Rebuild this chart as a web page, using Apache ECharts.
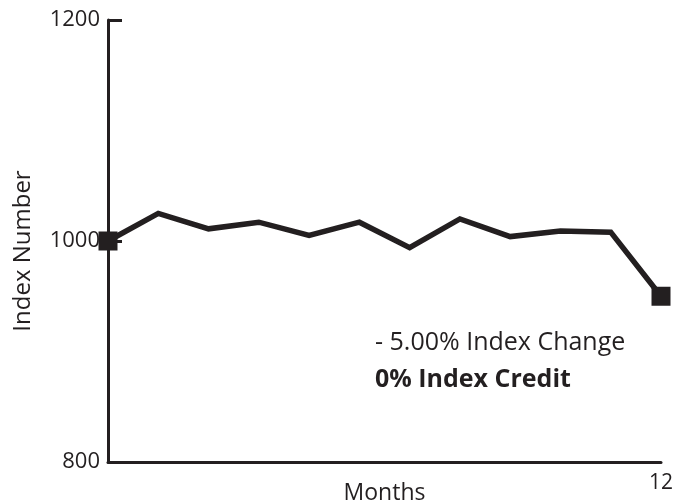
<!DOCTYPE html>
<html>
<head>
<meta charset="utf-8">
<script src="https://cdn.jsdelivr.net/npm/echarts@6/dist/echarts.min.js"></script>
<style>
  html, body { margin: 0; padding: 0; background: #fff; }
  #chart { width: 674px; height: 502px; }
</style>
</head>
<body>
<div id="chart"></div>
<script>
// Monthly index level over one year
const months = [1, 2, 3, 4, 5, 6, 7, 8, 9, 10, 11, 12];
const indexValues = [1000, 1025, 1011, 1017, 1005, 1017, 994, 1020, 1004, 1009, 1008, 950];
const yTicks = [800, 1000, 1200];
const xTicks = [12];
const noteLines = ['- 5.00% Index Change', '0% Index Credit'];

const ink = '#231f20';
const font = '"Open Sans", "Noto Sans", sans-serif';

// square markers only at the start and end of the year
const seriesData = months.map((m, i) => ({
  value: [m, indexValues[i]],
  symbolSize: (i === 0 || i === months.length - 1) ? 19 : 0
}));

const chart = echarts.init(document.getElementById('chart'));
chart.setOption({
  animation: false,
  backgroundColor: '#ffffff',
  grid: { left: 108, right: 13, top: 20, bottom: 40, containLabel: false, outerBoundsMode: 'none' },
  xAxis: {
    type: 'value',
    min: months[0],
    max: months[months.length - 1],
    name: 'Months',
    nameLocation: 'middle',
    nameGap: 20,
    nameMoveOverlap: false,
    nameTextStyle: { color: ink, fontFamily: font, fontSize: 23 },
    axisLine: { show: true, lineStyle: { color: ink, width: 3 } },
    axisTick: { show: false },
    splitLine: { show: false },
    axisLabel: {
      customValues: xTicks,
      color: ink, fontFamily: font, fontSize: 21, margin: 11
    }
  },
  yAxis: {
    type: 'value',
    min: yTicks[0],
    max: yTicks[yTicks.length - 1],
    interval: 200,
    name: 'Index Number',
    nameLocation: 'middle',
    nameGap: 73,
    nameMoveOverlap: false,
    nameTextStyle: { color: ink, fontFamily: font, fontSize: 24, padding: [0, 20, 0, 0] },
    axisLine: { show: true, lineStyle: { color: ink, width: 3 } },
    axisTick: { show: true, inside: true, length: 14, lineStyle: { color: ink, width: 3 } },
    splitLine: { show: false },
    axisLabel: {
      color: ink, fontFamily: font, fontSize: 22, margin: 8,
      formatter: v => String(v)
    }
  },
  series: [{
    type: 'line',
    data: seriesData,
    symbol: 'rect',
    showAllSymbol: true,
    itemStyle: { color: ink },
    lineStyle: { color: ink, width: 5.5, join: 'miter' },
    z: 5
  }],
  graphic: [{
    type: 'text',
    left: 375,
    top: 330,
    style: {
      text: noteLines[0],
      fill: ink,
      font: '25px ' + font
    }
  }, {
    type: 'text',
    left: 375,
    top: 367,
    style: {
      text: noteLines[1],
      fill: ink,
      font: 'bold 25px ' + font
    }
  }]
});
</script>
</body>
</html>
